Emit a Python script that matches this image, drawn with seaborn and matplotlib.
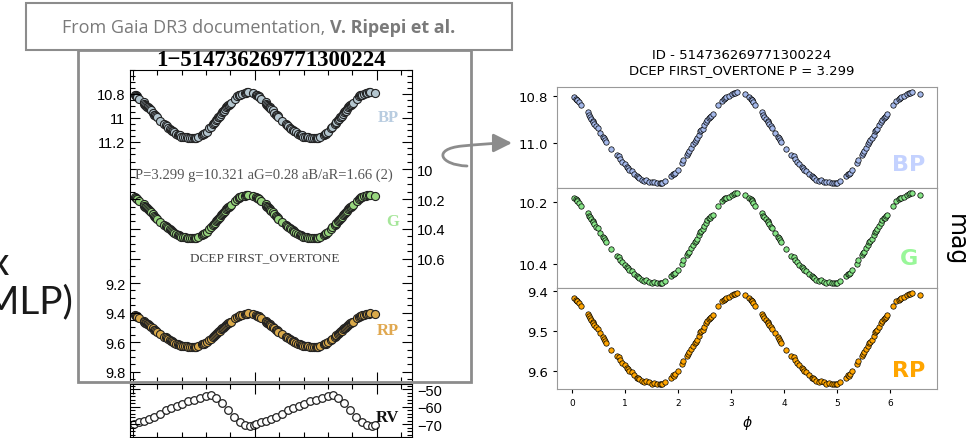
import numpy as np
import pandas as pd
import matplotlib
matplotlib.use("Agg")
import matplotlib.pyplot as plt
import matplotlib.ticker as mt
import seaborn as sns
from matplotlib.patches import Rectangle, FancyArrowPatch
from matplotlib.path import Path

# folded light curve, one cycle (time in days modulo the period)
period = 3.299
phase = [0.04, 0.07, 0.09, 0.10, 0.12, 0.16, 0.29, 0.31, 0.33, 0.36, 0.39, 0.40,
         0.42, 0.45, 0.48, 0.53, 0.58, 0.60, 0.62, 0.64, 0.73, 0.84, 0.88, 0.91,
         0.95, 0.99, 1.03, 1.05, 1.07, 1.12, 1.17, 1.22, 1.25, 1.27, 1.31, 1.36,
         1.40, 1.45, 1.50, 1.55, 1.60, 1.65, 1.68, 1.70, 1.76, 1.87, 1.90, 1.92,
         1.94, 1.99, 2.07, 2.10, 2.17, 2.19, 2.21, 2.25, 2.28, 2.31, 2.33, 2.35,
         2.39, 2.42, 2.44, 2.46, 2.49, 2.52, 2.55, 2.58, 2.60, 2.62, 2.65, 2.76,
         2.82, 2.86, 2.88, 2.91, 2.96, 3.02, 3.05, 3.08, 3.11, 3.26]
bp_mag = [10.805, 10.812, 10.816, 10.818, 10.826, 10.838, 10.870, 10.880, 10.888, 10.897,
          10.906, 10.910, 10.918, 10.928, 10.935, 10.955, 10.972, 10.978, 10.986, 10.995,
          11.025, 11.052, 11.056, 11.068, 11.080, 11.090, 11.100, 11.106, 11.112, 11.118,
          11.130, 11.140, 11.144, 11.146, 11.155, 11.158, 11.156, 11.162, 11.166, 11.164,
          11.168, 11.168, 11.170, 11.167, 11.160, 11.140, 11.130, 11.132, 11.125, 11.115,
          11.085, 11.072, 11.050, 11.042, 11.035, 11.020, 11.005, 10.995, 10.988, 10.980,
          10.965, 10.950, 10.945, 10.940, 10.925, 10.912, 10.900, 10.892, 10.890, 10.885,
          10.878, 10.840, 10.820, 10.812, 10.808, 10.805, 10.800, 10.793, 10.789, 10.786,
          10.782, 10.793]
g_mag = [10.187, 10.192, 10.195, 10.197, 10.203, 10.212, 10.236, 10.244, 10.250, 10.256,
         10.263, 10.266, 10.272, 10.280, 10.285, 10.300, 10.313, 10.318, 10.324, 10.331,
         10.353, 10.374, 10.377, 10.386, 10.395, 10.402, 10.410, 10.414, 10.419, 10.424,
         10.433, 10.440, 10.443, 10.445, 10.452, 10.454, 10.452, 10.457, 10.460, 10.458,
         10.461, 10.461, 10.463, 10.461, 10.455, 10.440, 10.433, 10.434, 10.429, 10.421,
         10.399, 10.389, 10.372, 10.366, 10.361, 10.349, 10.338, 10.331, 10.325, 10.319,
         10.308, 10.297, 10.293, 10.289, 10.278, 10.268, 10.259, 10.253, 10.251, 10.247,
         10.242, 10.213, 10.198, 10.192, 10.189, 10.187, 10.183, 10.178, 10.175, 10.173,
         10.170, 10.178]
rp_mag = [9.419, 9.423, 9.425, 9.426, 9.431, 9.438, 9.457, 9.463, 9.467, 9.472,
          9.478, 9.480, 9.485, 9.491, 9.495, 9.506, 9.516, 9.520, 9.525, 9.530,
          9.547, 9.563, 9.565, 9.572, 9.580, 9.585, 9.591, 9.595, 9.598, 9.602,
          9.609, 9.615, 9.617, 9.618, 9.623, 9.625, 9.624, 9.627, 9.630, 9.629,
          9.631, 9.631, 9.632, 9.630, 9.626, 9.615, 9.609, 9.610, 9.606, 9.600,
          9.582, 9.575, 9.562, 9.557, 9.553, 9.544, 9.536, 9.530, 9.526, 9.521,
          9.512, 9.503, 9.501, 9.498, 9.489, 9.481, 9.474, 9.470, 9.468, 9.465,
          9.461, 9.439, 9.427, 9.423, 9.420, 9.419, 9.416, 9.412, 9.409, 9.408,
          9.405, 9.412]

# radial velocity panel of the documentation figure (phase 0..1)
rv_phase = [0.01, 0.05, 0.09, 0.13, 0.17, 0.22, 0.27, 0.31, 0.36, 0.40, 0.45, 0.50,
            0.55, 0.60, 0.64, 0.68, 0.73, 0.78, 0.83, 0.88, 0.92, 0.96, 0.99]
rv_kms = [-70, -69, -68, -67, -66, -64, -62, -61, -59.5, -58.5, -57, -56,
          -55, -54, -53.5, -55, -58, -62, -66, -69, -70.5, -71, -70.5]

W, H = 971, 439
fig = plt.figure(figsize=(W / 100, H / 100), dpi=100)


def px_axes(l, t, r, b):
    return fig.add_axes([l / W, 1 - b / H, (r - l) / W, (b - t) / H])


# ---------------- right: re-drawn light curve ----------------
t_days = np.concatenate([phase, np.array(phase) + period])
right = [("BP", bp_mag, "#a4b8ea", "#c4d2ff", [10.8, 11.0], 0.14),
         ("G", g_mag, "#86e486", "#99f799", [10.2, 10.4], 0.20),
         ("RP", rp_mag, "#ffa500", "#ffa500", [9.4, 9.5, 9.6], 0.09)]
edges = [88, 189, 289, 390]
for i, (name, mag, face, lab_col, yt, ly) in enumerate(right):
    ax = px_axes(557, edges[i], 937, edges[i + 1])
    df = pd.DataFrame({"t": t_days, "mag": mag + mag})
    sns.scatterplot(data=df, x="t", y="mag", ax=ax, color=face,
                    edgecolor="black", linewidth=0.5, s=15)
    ax.invert_yaxis()
    ax.set_yticks(yt)
    ax.yaxis.set_major_formatter(mt.FormatStrFormatter("%.1f"))
    ax.tick_params(axis="y", labelsize=9.5, length=3)
    ax.set_ylabel("")
    for sp in ax.spines.values():
        sp.set_color("#999999")
    ax.text(0.925, ly, name, transform=ax.transAxes, ha="center", va="bottom",
            fontsize=16, fontweight="bold", color=lab_col)
    if i < 2:
        ax.tick_params(axis="x", bottom=False, labelbottom=False)
        ax.set_xlabel("")
    else:
        ax.set_xticks(range(7))
        ax.tick_params(axis="x", labelsize=6.5, length=3)
        ax.set_xlabel(r"$\phi$", fontsize=10)

fig.text(742 / W, 1 - 63 / H, "ID - 514736269771300224\nDCEP FIRST_OVERTONE P = 3.299",
         ha="center", va="center", fontsize=9.5, linespacing=1.25)
fig.text(956 / W, 1 - 240 / H, "mag", rotation=270, ha="center", va="center", fontsize=17)

# ---------------- left: documentation figure ----------------
in_x = np.concatenate([np.array(phase) / period, np.array(phase) / period + 1])
left = [(bp_mag, "#b4c6cf", 71, 160, (10.6, 11.342), [10.8, 11.0, 11.2], "left"),
        (g_mag, "#98d67e", 160, 270, (9.933, 10.667), [10.0, 10.2, 10.4, 10.6], "right"),
        (rp_mag, "#d9a94a", 270, 383, (9.105, 9.869), [9.2, 9.4, 9.6, 9.8], "left")]
lab_fmt = mt.FuncFormatter(lambda v, p: "%g" % round(v, 2))
for i, (mag, face, top, bot, lim, yt, side) in enumerate(left):
    ax = px_axes(130, top, 412, bot)
    df = pd.DataFrame({"x": in_x, "mag": mag + mag})
    sns.scatterplot(data=df, x="x", y="mag", ax=ax, color=face,
                    edgecolor="#222222", linewidth=0.8, s=34)
    ax.set_xlim(-0.025, 2.29)
    ax.set_ylim(lim[1], lim[0])
    ax.set_yticks(yt)
    ax.yaxis.set_major_formatter(lab_fmt)
    ax.yaxis.set_minor_locator(mt.MultipleLocator(0.05))
    ax.xaxis.set_major_locator(mt.MultipleLocator(1))
    ax.xaxis.set_minor_locator(mt.MultipleLocator(0.2))
    ax.tick_params(which="both", direction="in", left=True, right=True,
                   top=(i == 0), bottom=(i == 2), labelbottom=False,
                   labelleft=(side == "left"), labelright=(side == "right"),
                   labelsize=10.5, width=0.8)
    ax.tick_params(which="major", length=7)
    ax.tick_params(which="minor", length=3.5)
    plt.setp(ax.get_yticklabels(), family="Liberation Sans")
    ax.spines["top"].set_visible(i == 0)
    ax.spines["bottom"].set_visible(i == 2)
    ax.set_xlabel("")
    ax.set_ylabel("")
    ax.patch.set_alpha(0)

ax_rv = px_axes(130, 385, 412, 438)
rv_df = pd.DataFrame({"x": rv_phase + [p + 1 for p in rv_phase], "rv": rv_kms + rv_kms})
sns.scatterplot(data=rv_df, x="x", y="rv", ax=ax_rv, color="white",
                edgecolor="#222222", linewidth=0.9, s=30)
ax_rv.set_xlim(-0.025, 2.29)
ax_rv.set_ylim(-77.4, -47.1)
ax_rv.set_yticks([-50, -60, -70])
ax_rv.yaxis.set_minor_locator(mt.MultipleLocator(2))
ax_rv.xaxis.set_major_locator(mt.MultipleLocator(1))
ax_rv.xaxis.set_minor_locator(mt.MultipleLocator(0.2))
ax_rv.tick_params(which="both", direction="in", left=True, right=True, top=True,
                  bottom=True, labelbottom=False, labelleft=False, labelright=True,
                  labelsize=10.5, width=0.8)
ax_rv.tick_params(which="major", length=7)
ax_rv.tick_params(which="minor", length=3.5)
plt.setp(ax_rv.get_yticklabels(), family="Liberation Sans")
ax_rv.set_xlabel("")
ax_rv.set_ylabel("")

# ---------------- overlay in pixel coordinates ----------------
bg = fig.add_axes([0, 0, 1, 1], zorder=10)
bg.set_xlim(0, W)
bg.set_ylim(H, 0)
bg.axis("off")
bg.patch.set_alpha(0)

serif = "Liberation Serif"
bg.text(271, 61, "1\u2212514736269771300224", ha="center", va="center",
        family=serif, fontweight="bold", fontsize=16.5)
bg.text(264, 175, "P=3.299 g=10.321 aG=0.28 aB/aR=1.66 (2)", ha="center", va="center",
        family=serif, fontsize=10.5, color="#555555")
bg.text(265, 258, "DCEP FIRST_OVERTONE", ha="center", va="center",
        family=serif, fontsize=9.5, color="#444444")
for txt, y, col in [("BP", 118, "#b8cce0"), ("G", 222, "#a6e69a"),
                    ("RP", 331, "#e0a850"), ("RV", 418, "#111111")]:
    bg.text(399, y, txt, ha="right", va="center", family=serif,
            fontweight="bold", fontsize=12, color=col)

bg.add_patch(Rectangle((78, 51), 393, 332, fill=False, edgecolor="#8c8c8c", lw=2))
bg.add_patch(Rectangle((26, 4), 486, 47, facecolor="white", edgecolor="#8c8c8c", lw=1.5))
t1 = bg.text(62, 28, "From Gaia DR3 documentation, ", ha="left", va="center",
             family="Open Sans", fontsize=13, color="#7a7a7a")
bg.annotate("V. Ripepi et al.", xy=(1, 0.5), xycoords=t1, ha="left", va="center",
            family="Open Sans", fontweight="bold", fontsize=13, color="#7a7a7a")

# slide text that runs off the left edge, as in the slide
bg.text(9, 275, "x", ha="right", va="baseline", family="Lato",
        fontsize=28, color="#1a1a1a")
bg.text(73, 313, "(MLP)", ha="right", va="baseline", family="Lato",
        fontsize=28, color="#1a1a1a")

swoosh = Path([(467, 167), (440, 166), (432, 150), (462, 147),
               (478, 145.5), (495, 144), (512, 144)],
              [Path.MOVETO, Path.CURVE4, Path.CURVE4, Path.CURVE4,
               Path.CURVE4, Path.CURVE4, Path.CURVE4])
bg.add_patch(FancyArrowPatch(path=swoosh, arrowstyle="-|>,head_length=0.8,head_width=0.4",
                             mutation_scale=14, color="#8c8c8c", lw=2))

fig.savefig("out.png", dpi=100)
